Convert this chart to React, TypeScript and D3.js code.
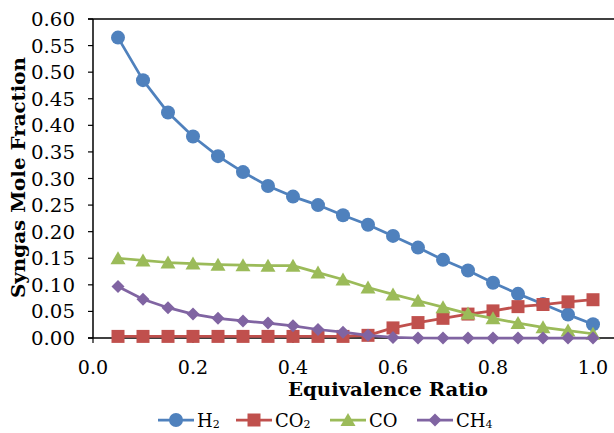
import React from "react";
import * as d3 from "d3";

const ratios = [0.05, 0.1, 0.15, 0.2, 0.25, 0.3, 0.35, 0.4, 0.45, 0.5, 0.55, 0.6, 0.65, 0.7, 0.75, 0.8, 0.85, 0.9, 0.95, 1.0];
const h2 = [0.565, 0.485, 0.424, 0.379, 0.342, 0.312, 0.286, 0.266, 0.250, 0.231, 0.213, 0.192, 0.170, 0.147, 0.127, 0.104, 0.083, 0.064, 0.044, 0.026];
const co2 = [0.003, 0.003, 0.003, 0.003, 0.003, 0.003, 0.003, 0.003, 0.003, 0.003, 0.005, 0.019, 0.029, 0.037, 0.045, 0.051, 0.059, 0.063, 0.068, 0.072];
const co = [0.150, 0.146, 0.142, 0.140, 0.138, 0.137, 0.136, 0.136, 0.123, 0.110, 0.095, 0.082, 0.070, 0.058, 0.046, 0.037, 0.028, 0.020, 0.014, 0.008];
const ch4 = [0.097, 0.073, 0.057, 0.045, 0.037, 0.032, 0.028, 0.023, 0.016, 0.011, 0.005, 0.001, 0.0, 0.0, 0.0, 0.0, 0.0, 0.0, 0.0, 0.0];
const xTicks = [0, 0.2, 0.4, 0.6, 0.8, 1.0];
const yTicks = [0, 0.05, 0.1, 0.15, 0.2, 0.25, 0.3, 0.35, 0.4, 0.45, 0.5, 0.55, 0.6];

const series = [
  { name: "H", sub: "2", values: h2, color: "#4F81BD", shape: "circle" },
  { name: "CO", sub: "2", values: co2, color: "#C0504D", shape: "square" },
  { name: "CO", sub: "", values: co, color: "#9BBB59", shape: "triangle" },
  { name: "CH", sub: "4", values: ch4, color: "#8064A2", shape: "diamond" },
];
const legendX = [158, 236, 330, 417];

const FONT = "'DejaVu Serif', serif";

function markerPath(shape: string): string {
  switch (shape) {
    case "circle":
      return "M-7,0A7,7 0 1,0 7,0A7,7 0 1,0 -7,0Z";
    case "square":
      return "M-6.5,-6.5H6.5V6.5H-6.5Z";
    case "triangle":
      return "M0,-7L7.5,6L-7.5,6Z";
    default:
      return "M0,-6.5L6.5,0L0,6.5L-6.5,0Z";
  }
}

export default function App() {
  const x = d3.scaleLinear().domain([0, 1]).range([93, 593]);
  const y = d3.scaleLinear().domain([0, 0.6]).range([338, 19]);
  const line = d3.line<number>().x((_, i) => x(ratios[i])).y((d) => y(d));

  return (
    <svg width={614} height={433} style={{ position: "absolute", left: 0, top: 0, background: "#fff" }}>
      <rect width={614} height={433} fill="#fff" />
      {/* y-axis */}
      <line x1={x(0)} x2={x(0)} y1={y(0.6)} y2={y(0)} stroke="#000" strokeWidth={1.5} />
      <line x1={88} x2={614} y1={y(0.6)} y2={y(0.6)} stroke="#000" strokeWidth={1.5} />
      {yTicks.map((t) => (
        <g key={t}>
          <line x1={88} x2={x(0)} y1={y(t)} y2={y(t)} stroke="#000" strokeWidth={1.2} />
          <text
            transform={`translate(75,${y(t) + 7}) scale(1.1,1)`}
            textAnchor="end"
            fontFamily={FONT}
            fontSize={18}
            fill="#000"
          >
            {t.toFixed(2)}
          </text>
        </g>
      ))}
      {/* x-axis ticks */}
      {xTicks.map((t) => (
        <g key={t}>
          <line x1={x(t)} x2={x(t)} y1={y(0)} y2={y(0) + 5} stroke="#000" strokeWidth={1.2} />
          <text
            transform={`translate(${x(t)},374) scale(1.06,1)`}
            textAnchor="middle"
            fontFamily={FONT}
            fontSize={18}
            fill="#000"
          >
            {t.toFixed(1)}
          </text>
        </g>
      ))}
      {/* x-axis line */}
      <line x1={88} x2={614} y1={y(0)} y2={y(0)} stroke="#000" strokeWidth={1.5} />
      {/* series */}
      {series.map((s) => (
        <g key={s.name + s.sub}>
          <path d={line(s.values) || ""} fill="none" stroke={s.color} strokeWidth={2.75} strokeLinejoin="round" />
          {s.values.map((v, i) => (
            <path key={i} d={markerPath(s.shape)} transform={`translate(${x(ratios[i])},${y(v)})`} fill={s.color} />
          ))}
        </g>
      ))}
      {/* axis titles */}
      <text
        x={288}
        y={396}
        textLength={200}
        lengthAdjust="spacingAndGlyphs"
        fontFamily={FONT}
        fontWeight="bold"
        fontSize={19}
        fill="#000"
      >
        Equivalence Ratio
      </text>
      <text
        transform="translate(25,298) rotate(-90)"
        textLength={241}
        lengthAdjust="spacingAndGlyphs"
        fontFamily={FONT}
        fontWeight="bold"
        fontSize={19}
        fill="#000"
      >
        Syngas Mole Fraction
      </text>
      {/* legend */}
      {series.map((s, i) => {
        const lx = legendX[i];
        return (
          <g key={"lg" + i}>
            <line x1={lx} x2={lx + 36} y1={420} y2={420} stroke={s.color} strokeWidth={2.75} />
            <path d={markerPath(s.shape)} transform={`translate(${lx + 18},420)`} fill={s.color} />
            <text x={lx + 39} y={426.5} fontFamily={FONT} fontSize={18} fill="#000">
              {s.name}
              {s.sub ? (
                <tspan fontSize={11} dy={1}>
                  {s.sub}
                </tspan>
              ) : null}
            </text>
          </g>
        );
      })}
    </svg>
  );
}
